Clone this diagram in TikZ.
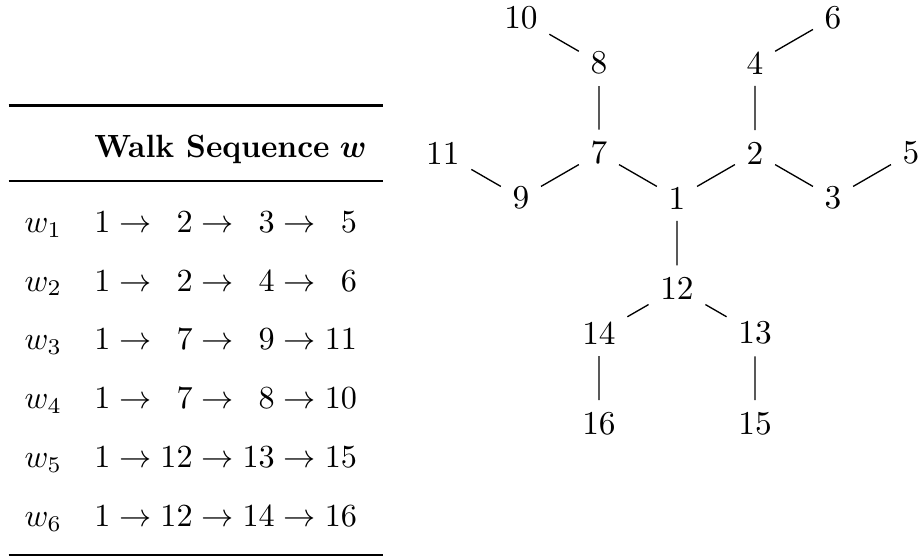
\documentclass[tikz,border=0pt]{standalone}
\usepackage{amsmath}
\usepackage{booktabs}
\usetikzlibrary{calc}

\begin{document}
\begin{tikzpicture}[vertex/.style={inner sep=.3333em}, bond/.style={line width=0.4pt}]
      \def\bond{0.95}
      % fixed frame of the picture
      \useasboundingbox (-7.138,-3.785) rectangle (2.541,2.088);

      % walk table
      \node[inner sep=0pt, anchor=north west, scale=0.965, transform shape] (walks) at (-7.054,0.994) {%
        \renewcommand{\arraystretch}{1.525}%
        \setlength{\tabcolsep}{5pt}%
        \begin{tabular}{cl}
          \toprule
           & \scalebox{0.965}[1]{\textbf{Walk Sequence} $\boldsymbol{w}$} \\
          \midrule
          $w_1$ & $1 \to \phantom{1}2 \to \phantom{1}3 \to \phantom{1}5$ \\
          $w_2$ & $1 \to \phantom{1}2 \to \phantom{1}4 \to \phantom{1}6$ \\
          $w_3$ & $1 \to \phantom{1}7 \to \phantom{1}9 \to 11$ \\
          $w_4$ & $1 \to \phantom{1}7 \to \phantom{1}8 \to 10$ \\
          $w_5$ & $1 \to 12 \to 13 \to 15$ \\
          $w_6$ & $1 \to 12 \to 14 \to 16$ \\
          \addlinespace[1.2pt]
          \bottomrule
        \end{tabular}};

      % tree: root and its three branches
      \node[vertex] (n1) at (0,0) {1};
      \node[vertex] (n2) at (30:\bond) {2};    % right branch
      \node[vertex] (n7) at (150:\bond) {7};   % left branch
      \node[vertex] (n12) at (270:\bond) {12}; % lower branch

      % right branch
      \node[vertex] (n3) at ($(n2)+(-30:\bond)$) {3};
      \node[vertex] (n5) at ($(n3)+(30:\bond)$) {5};
      \node[vertex] (n4) at ($(n2)+(90:\bond)$) {4};
      \node[vertex] (n6) at ($(n4)+(30:\bond)$) {6};

      % left branch
      \node[vertex] (n9) at ($(n7)+(210:\bond)$) {9};
      \node[vertex] (n11) at ($(n9)+(150:\bond)$) {11};
      \node[vertex] (n8) at ($(n7)+(90:\bond)$) {8};
      \node[vertex] (n10) at ($(n8)+(150:\bond)$) {10};

      % lower branch
      \node[vertex] (n13) at ($(n12)+(-30:\bond)$) {13};
      \node[vertex] (n15) at ($(n13)+(270:\bond)$) {15};
      \node[vertex] (n14) at ($(n12)+(210:\bond)$) {14};
      \node[vertex] (n16) at ($(n14)+(270:\bond)$) {16};

      % bonds
      \draw[bond] (n1) -- (n2) (n2) -- (n3) (n3) -- (n5) (n2) -- (n4) (n4) -- (n6);
      \draw[bond] (n1) -- (n7) (n7) -- (n9) (n9) -- (n11) (n7) -- (n8) (n8) -- (n10);
      \draw[bond] (n1) -- (n12) (n12) -- (n13) (n13) -- (n15) (n12) -- (n14) (n14) -- (n16);
\end{tikzpicture}
\end{document}
